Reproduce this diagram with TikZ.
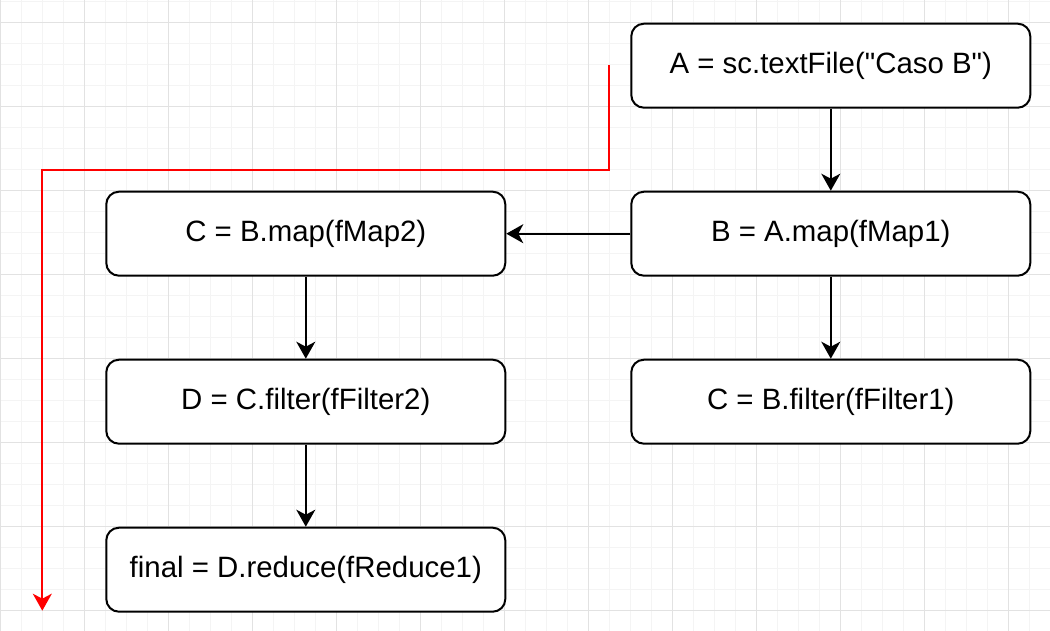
\documentclass[tikz,border=0pt]{standalone}
\usepackage{fontspec}
\setmainfont{Liberation Sans}[Ligatures=TeXOff]
\usetikzlibrary{arrows.meta}
\definecolor{gridminor}{HTML}{F4F4F4}
\definecolor{gridmajor}{HTML}{E2E2E2}
\definecolor{redline}{HTML}{FF0000}
\tikzset{
  box/.style={draw=black, line width=2pt, rounded corners=12.6pt, rectangle,
    minimum width=399pt, minimum height=84pt, anchor=north west, inner sep=0pt,
    font=\fontsize{29.4}{35}\selectfont, text=black, fill=white},
  conn/.style={draw=black, line width=2pt, -{Stealth[length=17pt,width=19pt,inset=5pt]}},
  redconn/.style={draw=redline, line width=2pt, -{Stealth[length=17pt,width=19pt,inset=5pt]}}
}
\begin{document}
\begin{tikzpicture}[x=1pt,y=-1pt]
\useasboundingbox (0,0) rectangle (1050,631);
\fill[white] (0,0) rectangle (1050,631);
% grid
\foreach \i in {0,...,50} {
  \pgfmathsetmacro{\gx}{0.3+21*\i}
  \draw[gridminor, line width=1pt] (\gx,0) -- (\gx,631);
}
\foreach \j in {0,...,30} {
  \pgfmathsetmacro{\gy}{1.7+21*\j}
  \draw[gridminor, line width=1pt] (0,\gy) -- (1050,\gy);
}
\foreach \i in {0,...,12} {
  \pgfmathsetmacro{\gx}{0.3+84*\i}
  \draw[gridmajor, line width=1pt] (\gx,0) -- (\gx,631);
}
\foreach \j in {0,...,7} {
  \pgfmathsetmacro{\gy}{22.7+84*\j}
  \draw[gridmajor, line width=1pt] (0,\gy) -- (1050,\gy);
}
% nodes
\node[box] (A) at (630.3,22.7) {A = sc.textFile("Caso B")};
\node[box] (B) at (630.3,190.7) {B = A.map(fMap1)};
\node[box] (Cf) at (630.3,358.7) {C = B.filter(fFilter1)};
\node[box] (Cm) at (105.3,190.7) {C = B.map(fMap2)};
\node[box] (D) at (105.3,358.7) {D = C.filter(fFilter2)};
\node[box] (F) at (105.3,526.7) {final = D.reduce(fReduce1)};
% connectors
\draw[conn] (A.south) -- (B.north);
\draw[conn] (B.west) -- (Cm.east);
\draw[conn] (B.south) -- (Cf.north);
\draw[conn] (Cm.south) -- (D.north);
\draw[conn] (D.south) -- (F.north);
% red arrow
\coordinate (r0) at (609.3,64.7);
\coordinate (r1) at (609.3,169.7);
\coordinate (r2) at (42.3,169.7);
\coordinate (r3) at (42.3,610.7);
\draw[redconn] (r0) -- (r1) -- (r2) -- (r3);
\end{tikzpicture}
\end{document}
